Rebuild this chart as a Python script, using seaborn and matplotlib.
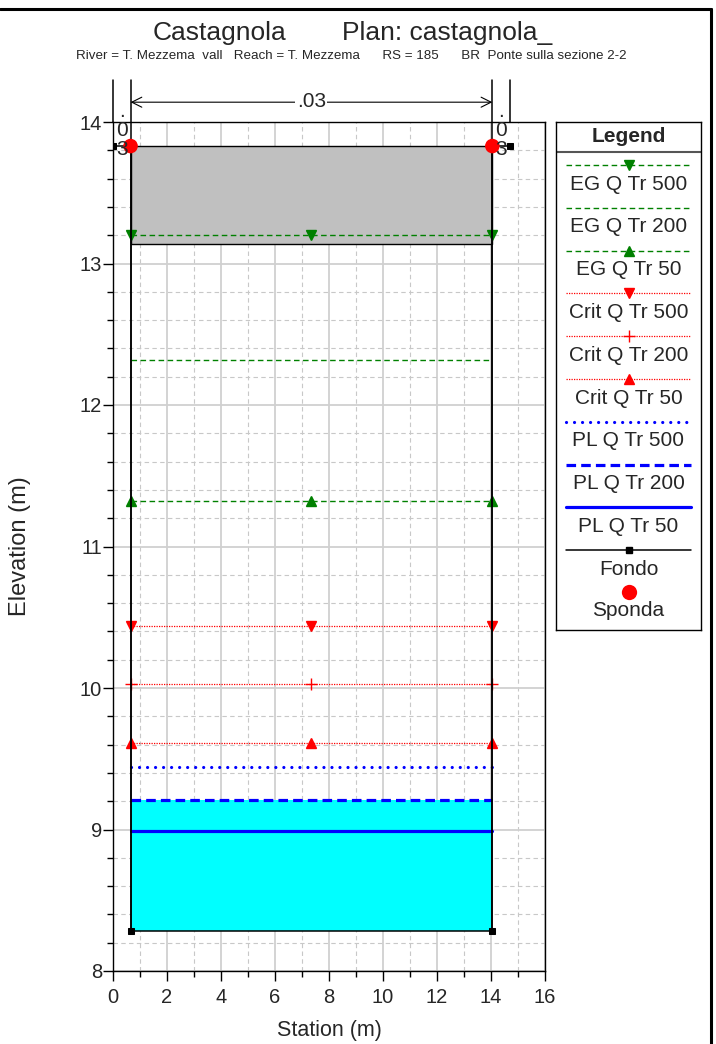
import numpy as np
import pandas as pd
import matplotlib
matplotlib.use('Agg')
import matplotlib.pyplot as plt
from matplotlib.lines import Line2D
from matplotlib.ticker import MultipleLocator
import seaborn as sns

sns.set_style('white')
plt.rcParams['font.family'] = ['Liberation Sans', 'DejaVu Sans']

# --- dati ---
ground_sta = [0.0, 0.65, 0.65, 14.05, 14.05, 14.7]
ground_elev = [13.83, 13.83, 8.28, 8.28, 13.83, 13.83]
bank_sta = [0.65, 14.05]
bank_elev = [13.83, 13.83]
deck_low = 13.14
deck_high = 13.83
ws_sta = [0.65, 7.35, 14.05]
profiles = ['EG Q Tr 500', 'EG Q Tr 200', 'EG Q Tr 50',
            'Crit Q Tr 500', 'Crit Q Tr 200', 'Crit Q Tr 50',
            'PL Q Tr 500', 'PL Q Tr 200', 'PL Q Tr 50']
prof_elev = [13.20, 12.32, 11.32, 10.44, 10.03, 9.61, 9.44, 9.21, 8.99]
fill_level = 9.21
n_break_sta = [0.0, 0.65, 14.05, 14.7]
n_values = ['.03', '.03', '.03']
n_top = 14.30

# stili
green_dash = (0, (4, 2.5))
red_dot = (0, (1, 1))
styles = {
    'EG Q Tr 500': dict(color='#008000', ls=green_dash, lw=1.0, marker='v', ms=7),
    'EG Q Tr 200': dict(color='#008000', ls=green_dash, lw=1.0, marker=None, ms=0),
    'EG Q Tr 50': dict(color='#008000', ls=green_dash, lw=1.0, marker='^', ms=7),
    'Crit Q Tr 500': dict(color='red', ls=red_dot, lw=0.9, marker='v', ms=7),
    'Crit Q Tr 200': dict(color='red', ls=red_dot, lw=0.9, marker='+', ms=8),
    'Crit Q Tr 50': dict(color='red', ls=red_dot, lw=0.9, marker='^', ms=7),
    'PL Q Tr 500': dict(color='blue', ls=(0, (0.01, 2.5)), lw=2.3, marker=None, ms=0),
    'PL Q Tr 200': dict(color='blue', ls=(0, (3, 1.6)), lw=2.3, marker=None, ms=0),
    'PL Q Tr 50': dict(color='blue', ls='-', lw=2.3, marker=None, ms=0),
}

W, H = 716, 1044
fig = plt.figure(figsize=(W / 100, H / 100), dpi=100)
ax = fig.add_axes([113 / W, 1 - 971 / H, 432 / W, 849 / H])

# riempimenti
ax.fill_between(bank_sta, min(ground_elev), fill_level, color='#00ffff', lw=0, zorder=1)
ax.fill_between(bank_sta, deck_low, deck_high, color='#c0c0c0', edgecolor='black', lw=1, zorder=2)

# profili
for name, elev in zip(profiles, prof_elev):
    st = styles[name]
    df = pd.DataFrame({'Station': ws_sta, 'Elevation': [elev] * len(ws_sta)})
    kw = dict(color=st['color'], linestyle=st['ls'], lw=st['lw'], zorder=4)
    if st['marker']:
        kw.update(marker=st['marker'], markersize=st['ms'],
                  markeredgecolor=st['color'], markerfacecolor=st['color'], markeredgewidth=1)
    if name == 'PL Q Tr 500':
        kw.update(dash_capstyle='round')
    sns.lineplot(data=df, x='Station', y='Elevation', ax=ax, estimator=None, sort=False, **kw)

# fondo
gdf = pd.DataFrame({'Station': ground_sta, 'Elevation': ground_elev})
sns.lineplot(data=gdf, x='Station', y='Elevation', ax=ax, estimator=None, sort=False,
             color='black', lw=1.1, marker='s', markersize=5, markeredgecolor='black', zorder=5)

# sponde
sns.scatterplot(x=bank_sta, y=bank_elev, ax=ax, color='red', s=110, edgecolor='none', zorder=6)

# linee di Manning sopra il grafico
for i, s in enumerate(n_break_sta):
    y0 = 14.0 if i in (0, len(n_break_sta) - 1) else min(ground_elev)
    ax.plot([s, s], [y0, n_top], color='black', lw=1.1, clip_on=False, zorder=5)
for i, nv in enumerate(n_values):
    a, b = n_break_sta[i], n_break_sta[i + 1]
    mid = (a + b) / 2
    if b - a > 2:
        ax.annotate('', xy=(b, 14.14), xytext=(a, 14.14), annotation_clip=False,
                    arrowprops=dict(arrowstyle='<->', lw=0.8, color='black',
                                    shrinkA=0, shrinkB=0, mutation_scale=18))
        ax.text(mid, 14.145, nv, ha='center', va='center', fontsize=15, clip_on=False,
                bbox=dict(facecolor='white', edgecolor='none', pad=1), zorder=6)
    else:
        ax.text(mid, 13.94, '\n'.join(nv), ha='center', va='center', fontsize=15,
                linespacing=1.0, clip_on=False, zorder=7)

ax.set_xlim(0, 16)
ax.set_ylim(8, 14)
ax.xaxis.set_major_locator(MultipleLocator(2))
ax.xaxis.set_minor_locator(MultipleLocator(1))
ax.yaxis.set_major_locator(MultipleLocator(1))
ax.yaxis.set_minor_locator(MultipleLocator(0.2))
ax.grid(which='major', color='#d0d0d0', lw=1.3, ls='-', zorder=0)
ax.grid(which='minor', color='#c8c8c8', lw=0.8, ls=(0, (4, 3)), zorder=0)
ax.set_axisbelow(True)
ax.tick_params(which='major', direction='out', length=7, width=1, labelsize=14.5,
               bottom=True, left=True, color='black')
ax.tick_params(which='minor', direction='out', length=4, width=1, bottom=True, left=True, color='black')
ax.tick_params(axis='y', which='major', pad=1)
ax.tick_params(axis='x', which='major', pad=5)
for sp in ax.spines.values():
    sp.set_color('black')
    sp.set_linewidth(1)
ax.set_xlabel('Station (m)', fontsize=15.5)
ax.set_ylabel('Elevation (m)', fontsize=17)
ax.xaxis.set_label_coords(0.5, -0.058)
ax.yaxis.set_label_coords(-0.19, 0.5)

# titoli
fig.text(220 / W, 1 - 33 / H, 'Castagnola', ha='center', va='center', fontsize=19)
fig.text(447 / W, 1 - 33 / H, 'Plan: castagnola_', ha='center', va='center', fontsize=19)
fig.text(351 / W, 1 - 56 / H,
         'River = T. Mezzema  vall   Reach = T. Mezzema      RS = 185      BR  Ponte sulla sezione 2-2',
         ha='center', va='center', fontsize=9.6)

# legenda disegnata a mano (testo sotto il campione)
lg = fig.add_axes([556 / W, 1 - 630 / H, 145 / W, 508 / H])
lg.set_xlim(0, 145)
lg.set_ylim(508, 0)
lg.set_xticks([])
lg.set_yticks([])
for sp in lg.spines.values():
    sp.set_color('black')
    sp.set_linewidth(1)
lg.text(72.5, 14, 'Legend', ha='center', va='center', fontsize=15, fontweight='bold')
lg.plot([0, 145], [30, 30], color='#555555', lw=1.5)
xs = [10, 72.5, 135]
for i, name in enumerate(profiles + ['Fondo']):
    yl = 43 + 42.8 * i
    if name == 'Fondo':
        st = dict(color='black', ls='-', lw=1.1, marker='s', ms=5)
    else:
        st = styles[name]
    kw = dict(color=st['color'], linestyle=st['ls'], lw=st['lw'])
    if st['marker']:
        kw.update(marker=st['marker'], markersize=st['ms'], markevery=[1],
                  markeredgecolor=st['color'], markerfacecolor=st['color'])
    if name == 'PL Q Tr 500':
        kw.update(dash_capstyle='round')
    lg.plot(xs, [yl] * 3, **kw)
    lg.text(72.5, yl + 19, name, ha='center', va='center', fontsize=15)
lg.plot([72.5], [470], marker='o', color='red', markersize=11, markeredgecolor='none')
lg.text(72.5, 488, 'Sponda', ha='center', va='center', fontsize=15)

# cornice
fig.add_artist(Line2D([0, 711 / W], [1 - 9 / H, 1 - 9 / H], color='black', lw=2.2, transform=fig.transFigure))
fig.add_artist(Line2D([711 / W, 711 / W], [0, 1 - 9 / H], color='black', lw=2.2, transform=fig.transFigure))

fig.savefig('out.png', dpi=100)
